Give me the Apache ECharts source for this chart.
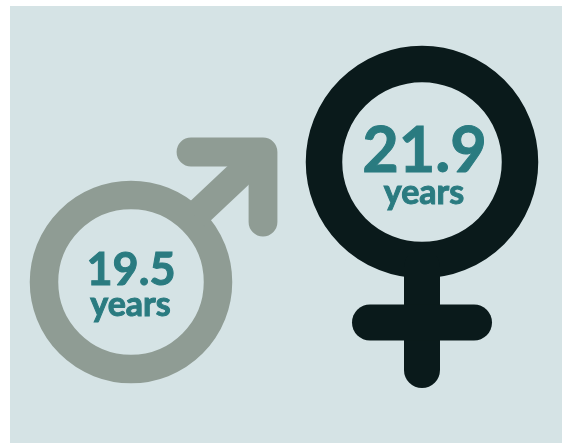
<!DOCTYPE html>
<html>
<head>
<meta charset="utf-8">
<style>
  html, body { margin: 0; padding: 0; background: #fff; }
  #chart { width: 562px; height: 443px; }
</style>
<script src="https://cdn.jsdelivr.net/npm/echarts@6/dist/echarts.min.js"></script>
</head>
<body>
<div id="chart"></div>
<script>
const categories = ['male', 'female'];
const ages = [19.5, 21.9];
const unit = 'years';

const bg = '#d5e3e5';
const teal = '#2a7b80';

function maleGlyph(x, y) {
  return [
    { type: 'circle', shape: { cx: x, cy: y, r: 87 }, style: { fill: 'none', stroke: '#8f9c94', lineWidth: 28.5 } },
    { type: 'polyline', shape: { points: [[x + 64, y - 66], [x + 132, y - 130]] }, style: { fill: 'none', stroke: '#8f9c94', lineWidth: 28, lineCap: 'butt' } },
    { type: 'polyline', shape: { points: [[x + 60, y - 130], [x + 132, y - 130], [x + 132, y - 60]] }, style: { fill: 'none', stroke: '#8f9c94', lineWidth: 28.8, lineCap: 'round', lineJoin: 'round' } }
  ];
}

function femaleGlyph(x, y) {
  return [
    { type: 'circle', shape: { cx: x, cy: y, r: 98 }, style: { fill: 'none', stroke: '#0a1a1b', lineWidth: 36.5 } },
    { type: 'line', shape: { x1: x, y1: y + 105, x2: x, y2: y + 208 }, style: { stroke: '#0a1a1b', lineWidth: 36, lineCap: 'round' } },
    { type: 'line', shape: { x1: x - 52, y1: y + 160.5, x2: x + 52, y2: y + 160.5 }, style: { stroke: '#0a1a1b', lineWidth: 36, lineCap: 'round' } }
  ];
}

function label(text, x, y, size) {
  return {
    type: 'text',
    style: { text: text, x: x, y: y, align: 'center', verticalAlign: 'middle', fill: teal, stroke: teal, lineWidth: 1, font: 'bold ' + size + 'px Lato, sans-serif' }
  };
}

const chart = echarts.init(document.getElementById('chart'));
chart.setOption({
  animation: false,
  backgroundColor: '#fff',
  graphic: [{ type: 'rect', z: -1, shape: { x: 10, y: 6, width: 552, height: 437 }, style: { fill: bg } }],
  // the glyph centres are placed by their age on the hidden y axis
  grid: { left: 131, width: 291, top: 7, height: 400 },
  xAxis: { type: 'category', data: categories, boundaryGap: false, show: false },
  yAxis: { type: 'value', min: 17, max: 25, show: false },
  series: [{
    type: 'custom',
    clip: false,
    data: ages.map((v, i) => [i, v]),
    encode: { x: 0, y: 1 },
    renderItem: function (params, api) {
      const p = api.coord([api.value(0), api.value(1)]);
      const female = api.value(0) === 1;
      const glyph = female ? femaleGlyph(p[0], p[1]) : maleGlyph(p[0], p[1]);
      const num = api.value(1).toFixed(1);
      const texts = female
        ? [label(num, p[0] + 2.5, p[1] - 10, 63), label(unit, p[0] + 2, p[1] + 31, 34)]
        : [label(num, p[0], p[1] - 12, 45), label(unit, p[0] - 0.5, p[1] + 23, 34)];
      return { type: 'group', children: glyph.concat(texts) };
    }
  }]
});
</script>
</body>
</html>
